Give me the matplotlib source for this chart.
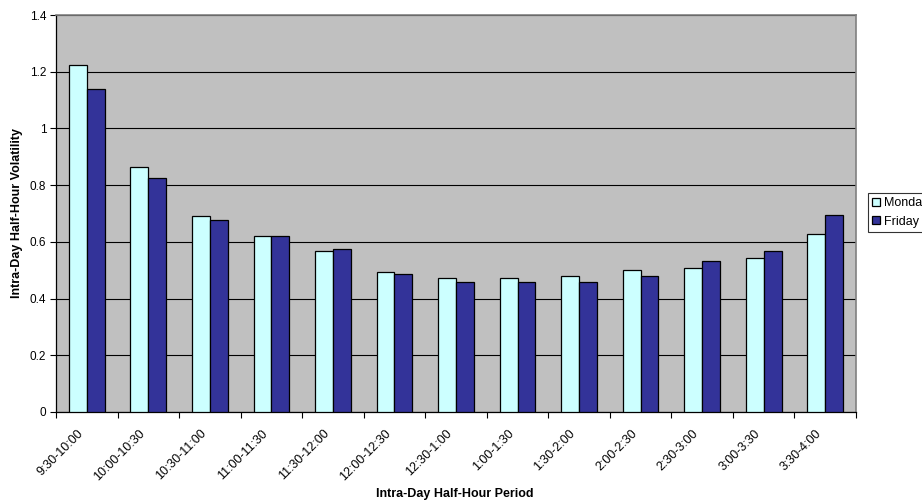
import matplotlib
matplotlib.use("Agg")
import matplotlib.pyplot as plt
import numpy as np

periods = ["9:30-10:00", "10:00-10:30", "10:30-11:00", "11:00-11:30", "11:30-12:00",
           "12:00-12:30", "12:30-1:00", "1:00-1:30", "1:30-2:00", "2:00-2:30",
           "2:30-3:00", "3:00-3:30", "3:30-4:00"]
monday = [1.225, 0.864, 0.691, 0.619, 0.569, 0.493, 0.472, 0.472, 0.478, 0.502, 0.508, 0.543, 0.628]
friday = [1.140, 0.825, 0.678, 0.622, 0.576, 0.485, 0.457, 0.457, 0.460, 0.481, 0.531, 0.566, 0.696]

plt.rcParams["font.family"] = ["Liberation Sans", "DejaVu Sans"]

fig = plt.figure(figsize=(9.22, 5.04), dpi=100)
ax = fig.add_axes([56 / 922, 1 - 412 / 504, 800 / 922, 397 / 504])

x = np.arange(len(periods))
w = 0.29
ax.bar(x - w / 2, monday, w, color="#CCFFFF", edgecolor="black", linewidth=0.9, label="Monday", zorder=3)
ax.bar(x + w / 2, friday, w, color="#333399", edgecolor="black", linewidth=0.9, label="Friday", zorder=3)

ax.set_facecolor("#C0C0C0")
ax.set_xlim(-0.5, len(periods) - 0.5)
ax.set_ylim(0, 1.4)
ax.set_yticks(np.arange(0, 1.41, 0.2))
ax.set_yticklabels(["0", "0.2", "0.4", "0.6", "0.8", "1", "1.2", "1.4"], fontsize=8.5)
ax.yaxis.grid(True, color="black", linewidth=0.8, zorder=1)
ax.set_axisbelow(True)

# category boundaries carry the tick marks; labels sit near the centres
ax.set_xticks(np.arange(-0.5, len(periods), 1.0))
ax.set_xticklabels([])
ax.set_xticks(x - 0.16, minor=True)
ax.set_xticklabels(periods, minor=True, rotation=45, ha="right", va="top",
                   rotation_mode="anchor", fontsize=9)
ax.tick_params(axis="x", which="minor", length=0, pad=11)
ax.tick_params(axis="x", which="major", length=4, direction="out", color="black")
ax.tick_params(axis="y", length=4, direction="out", color="black", pad=3)

for side in ("top", "right"):
    ax.spines[side].set_color("#808080")
    ax.spines[side].set_linewidth(1.2)
for side in ("left", "bottom"):
    ax.spines[side].set_color("black")
    ax.spines[side].set_linewidth(0.9)

fig.text(455 / 922, 1 - 494 / 504, "Intra-Day Half-Hour Period", fontsize=9,
         fontweight="bold", ha="center", va="center")
ax.set_ylabel("Intra-Day Half-Hour Volatility", fontsize=9, fontweight="bold", labelpad=5)

leg = fig.legend(loc="upper left", bbox_to_anchor=(868 / 922, 1 - 193 / 504),
                 fontsize=9, frameon=True, fancybox=False, edgecolor="black",
                 handlelength=0.6, handleheight=0.6, handletextpad=0.35,
                 borderpad=0.35, labelspacing=0.5, borderaxespad=0)
leg.get_frame().set_linewidth(0.8)

fig.savefig("out.png", dpi=100)
